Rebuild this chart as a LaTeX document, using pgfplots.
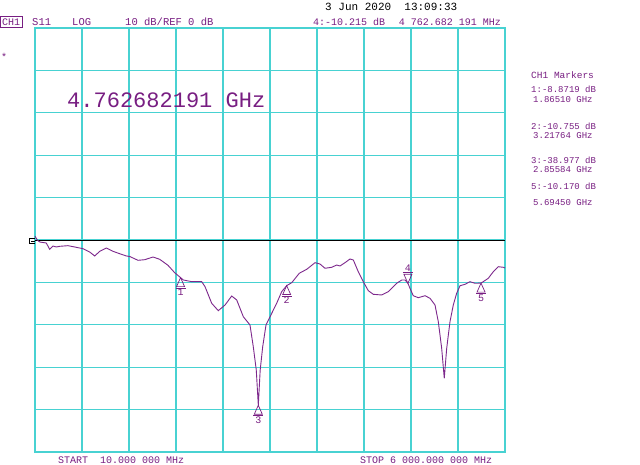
\documentclass[border=0pt]{standalone}
\usepackage{pgfplots}
\pgfplotsset{compat=1.18}
\usepackage{fontspec}
\setmainfont{Liberation Mono}
\definecolor{gridc}{RGB}{72,210,210}
\definecolor{purp}{RGB}{120,30,130}
\definecolor{trc}{RGB}{125,40,140}
\pgfdeclareplotmark{mkup}{%
  \pgfpathmoveto{\pgfpoint{0pt}{0pt}}\pgfpathlineto{\pgfpoint{-4pt}{-9pt}}\pgfpathlineto{\pgfpoint{4pt}{-9pt}}\pgfpathclose\pgfusepathqstroke
  \pgfpathmoveto{\pgfpoint{-5pt}{-10.5pt}}\pgfpathlineto{\pgfpoint{5pt}{-10.5pt}}\pgfusepathqstroke}
\pgfdeclareplotmark{mkdown}{%
  \pgfpathmoveto{\pgfpoint{0pt}{0pt}}\pgfpathlineto{\pgfpoint{-4pt}{9pt}}\pgfpathlineto{\pgfpoint{4pt}{9pt}}\pgfpathclose\pgfusepathqstroke
  \pgfpathmoveto{\pgfpoint{-5pt}{10.5pt}}\pgfpathlineto{\pgfpoint{5pt}{10.5pt}}\pgfusepathqstroke}
\begin{document}
\begin{tikzpicture}[x=1pt,y=1pt]
\path[fill=white] (0,0) rectangle (640,465);
\begin{axis}[at={(35pt,13pt)}, anchor=south west, scale only axis,
  width=470pt, height=424pt,
  xmin=0.01, xmax=6, ymin=-50, ymax=50,
  xtick={0.01,0.609,1.208,1.807,2.406,3.005,3.604,4.203,4.802,5.401,6.0},
  ytick={-50,-40,-30,-20,-10,0,10,20,30,40,50},
  xticklabels={}, yticklabels={}, major tick length=0pt,
  grid=major, major grid style={draw=gridc, line width=1.2pt},
  axis line style={draw=gridc, line width=1.2pt},
  clip=false]
\addplot[black, line width=0.9pt] coordinates {(0.01,0) (6,0)};
\addplot[trc, line width=0.9pt, mark=none] coordinates {
(0.01,0.9) (0.04,0.0) (0.070,-0.47) (0.154,-0.71) (0.197,-2.19) (0.239,-1.42) (0.281,-1.65) (0.325,-1.49) (0.431,-1.34) (0.516,-1.65) (0.622,-2.05) (0.707,-2.83) (0.771,-3.77) (0.835,-2.67) (0.919,-1.89) (1.004,-2.67) (1.089,-3.23) (1.174,-3.77) (1.217,-3.89) (1.323,-4.79) (1.408,-4.65) (1.514,-4.01) (1.599,-4.55) (1.705,-5.97) (1.790,-7.71) (1.865,-8.87) (1.900,-9.43) (2.007,-9.83) (2.135,-9.83) (2.177,-11.01) (2.262,-14.93) (2.346,-16.67) (2.432,-15.33) (2.517,-13.21) (2.581,-14.15) (2.665,-18.09) (2.750,-20.05) (2.792,-25.17) (2.830,-30.66) (2.856,-38.98) (2.880,-30.66) (2.912,-25.17) (2.954,-20.05) (3.027,-17.29) (3.090,-14.93) (3.154,-12.19) (3.218,-10.755) (3.282,-10.07) (3.378,-7.85) (3.473,-6.91) (3.579,-5.35) (3.642,-5.66) (3.706,-6.67) (3.791,-6.44) (3.855,-5.90) (3.897,-6.13) (3.961,-5.35) (4.025,-4.48) (4.067,-4.72) (4.130,-7.48) (4.194,-9.83) (4.258,-11.96) (4.322,-12.81) (4.429,-12.97) (4.513,-12.19) (4.620,-10.21) (4.684,-9.43) (4.726,-9.43) (4.763,-10.215) (4.789,-11.39) (4.831,-13.14) (4.895,-13.61) (4.981,-13.14) (5.044,-13.75) (5.108,-15.33) (5.150,-19.27) (5.193,-25.54) (5.226,-32.62) (5.257,-25.54) (5.299,-19.27) (5.341,-15.33) (5.384,-12.57) (5.427,-10.78) (5.490,-10.45) (5.554,-9.83) (5.618,-10.21) (5.6945,-10.17) (5.787,-9.03) (5.851,-7.48) (5.915,-6.30) (5.979,-6.44) (6.0,-6.6)};
\addplot[purp, only marks, mark=mkup, line width=0.7pt,
  point meta=explicit symbolic, nodes near coords,
  every node near coord/.append style={anchor=north, yshift=-11pt, inner sep=0pt, font=\fontsize{10}{10}\selectfont, text=purp}]
  coordinates {(1.8651,-8.8719)[1] (3.21764,-10.755)[2] (2.85584,-38.977)[3] (5.6945,-10.17)[5]};
\addplot[purp, only marks, mark=mkdown, line width=0.7pt,
  point meta=explicit symbolic, nodes near coords,
  every node near coord/.append style={anchor=south, yshift=11pt, inner sep=0pt, font=\fontsize{10}{10}\selectfont, text=purp}]
  coordinates {(4.762682,-10.215)[4]};
\end{axis}
% reference position marker
\draw[black, line width=0.7pt] (34.5,226.5)--(29,226.5)--(29,221.5)--(34.5,221.5);
\draw[black, line width=0.7pt] (31,224)--(34.5,224);
% header
\begin{scope}[every node/.style={inner sep=0pt, anchor=west}]
\node[text=black, font=\fontsize{11}{11}\selectfont] at (325,458) {3 Jun 2020\ \ 13:09:33};
\draw[purp, line width=0.8pt] (0.5,438) rectangle (22,448.5);
\node[text=purp, font=\fontsize{10}{10}\selectfont, anchor=center] at (11.2,443) {CH1};
\node[text=purp, font=\fontsize{10.5}{10}\selectfont] at (32,443) {S11};
\node[text=purp, font=\fontsize{10.5}{10}\selectfont] at (72,443) {LOG};
\node[text=purp, font=\fontsize{10.5}{10}\selectfont] at (125,443) {10 dB/REF 0 dB};
\node[text=purp, font=\fontsize{10}{10}\selectfont] at (313,443) {4:-10.215 dB};
\node[text=purp, font=\fontsize{10}{10}\selectfont, anchor=east] at (501,443) {4 762.682 191 MHz};
\node[text=purp, font=\fontsize{10}{10}\selectfont] at (1,408) {*};
\node[text=purp, font=\fontsize{22}{22}\selectfont] at (67,365) {4.762682191 GHz};
% marker panel
\node[text=purp, font=\fontsize{9.5}{10}\selectfont] at (531,390) {CH1 Markers};
\node[text=purp, font=\fontsize{9}{10}\selectfont] at (531,376) {1:-8.8719 dB};
\node[text=purp, font=\fontsize{9}{10}\selectfont] at (533,365) {1.86510 GHz};
\node[text=purp, font=\fontsize{9}{10}\selectfont] at (531,339) {2:-10.755 dB};
\node[text=purp, font=\fontsize{9}{10}\selectfont] at (533,329.5) {3.21764 GHz};
\node[text=purp, font=\fontsize{9}{10}\selectfont] at (531,305) {3:-38.977 dB};
\node[text=purp, font=\fontsize{9}{10}\selectfont] at (533,295.5) {2.85584 GHz};
\node[text=purp, font=\fontsize{9}{10}\selectfont] at (531,279) {5:-10.170 dB};
\node[text=purp, font=\fontsize{9}{10}\selectfont] at (533,262) {5.69450 GHz};
% footer
\node[text=purp, font=\fontsize{10}{10}\selectfont] at (58,4.5) {START\ \ 10.000 000 MHz};
\node[text=purp, font=\fontsize{10}{10}\selectfont] at (360,4.5) {STOP 6 000.000 000 MHz};
\end{scope}
\end{tikzpicture}
\end{document}
